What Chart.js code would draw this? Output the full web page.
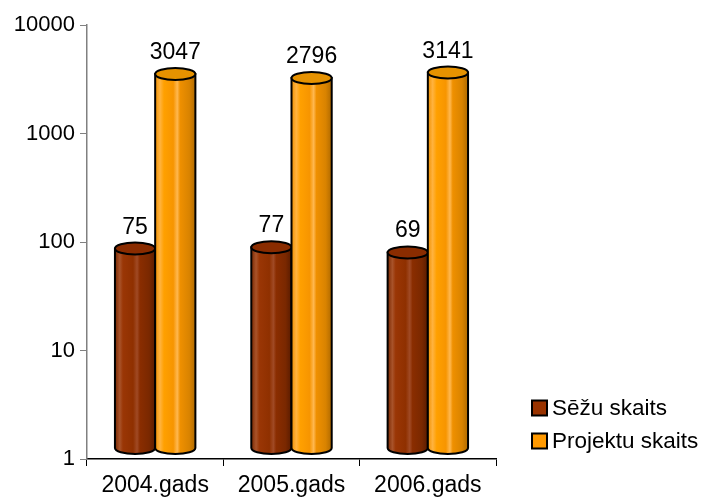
<!DOCTYPE html>
<html>
<head>
<meta charset="utf-8">
<script src="https://cdn.jsdelivr.net/npm/chart.js@4.4.1/dist/chart.umd.min.js"></script>
<style>
    html, body { margin: 0; padding: 0; background: #ffffff; }
    #chart { display: block; }
</style>
</head>
<body>
<canvas id="chart" width="713" height="499"></canvas>
<script>
// chart data
const categories = ['2004.gads', '2005.gads', '2006.gads'];
const seatCounts = [75, 77, 69];
const projectCounts = [3047, 2796, 3141];
const seriesNames = ['Sēžu skaits', 'Projektu skaits'];
const yTickValues = [1, 10, 100, 1000, 10000];

const FONT = '"Liberation Sans", Arial, sans-serif';

// colour sets per series: legend fill, body gradient stops, top fill
const palettes = [
    {
        fill: '#993300',
        body: [[0, '#7a2800'], [0.12, '#a8532a'], [0.2, '#9a3605'], [0.45, '#8f3000'], [0.55, '#a04a25'],
               [0.62, '#8a2d00'], [0.85, '#7a2800'], [1, '#5a1c00']],
        top: '#8a2c00'
    },
    {
        fill: '#ff9900',
        body: [[0, '#f09000'], [0.12, '#ffb340'], [0.22, '#ffa000'], [0.45, '#f79500'], [0.55, '#ffb850'],
               [0.62, '#ef9000'], [0.85, '#d98300'], [1, '#b06a00']],
        top: '#e69200'
    }
];

// draws every bar as a cylinder, using the bar elements the library laid out
const cylinderPlugin = {
    id: 'cylinders',
    afterDatasetsDraw(chart) {
        const ctx = chart.ctx;
        const ry = 6;
        chart.data.datasets.forEach(function(ds, i) {
            const meta = chart.getDatasetMeta(i);
            const pal = palettes[i];
            meta.data.forEach(function(bar, j) {
                const w = bar.width;
                const rx = w / 2;
                const left = bar.x - rx;
                const topY = bar.y - 7;
                const botY = bar.base - 11;

                ctx.save();
                const grad = ctx.createLinearGradient(left, 0, left + w, 0);
                pal.body.forEach(function(s) { grad.addColorStop(s[0], s[1]); });

                // body
                ctx.beginPath();
                ctx.moveTo(left, topY);
                ctx.lineTo(left, botY);
                ctx.ellipse(bar.x, botY, rx, ry, 0, Math.PI, 0, true);
                ctx.lineTo(left + w, topY);
                ctx.closePath();
                ctx.fillStyle = grad;
                ctx.fill();
                ctx.lineWidth = 2;
                ctx.strokeStyle = '#000000';
                ctx.stroke();

                // top ellipse
                ctx.beginPath();
                ctx.ellipse(bar.x, topY, rx, ry, 0, 0, Math.PI * 2);
                ctx.fillStyle = pal.top;
                ctx.fill();
                ctx.stroke();

                // value label
                ctx.fillStyle = '#000000';
                ctx.font = '23px ' + FONT;
                ctx.textAlign = 'center';
                ctx.textBaseline = 'alphabetic';
                ctx.fillText(String(ds.data[j]), bar.x, topY - ry - 9);
                ctx.restore();
            });
        });
    },
    afterDraw(chart) {
        // legend at lower right
        const ctx = chart.ctx;
        const x0 = 532;
        const rows = [408, 441];
        ctx.save();
        chart.data.datasets.forEach(function(ds, i) {
            const cy = rows[i];
            ctx.fillStyle = palettes[i].fill;
            ctx.fillRect(x0, cy - 7.5, 15, 15);
            ctx.lineWidth = 2;
            ctx.strokeStyle = '#000000';
            ctx.strokeRect(x0, cy - 7.5, 15, 15);
            ctx.fillStyle = '#000000';
            ctx.font = '22.5px ' + FONT;
            ctx.textAlign = 'left';
            ctx.textBaseline = 'middle';
            ctx.fillText(ds.label, x0 + 20, cy + 1);
        });
        ctx.restore();
    }
};

new Chart(document.getElementById('chart'), {
    type: 'bar',
    data: {
        labels: categories,
        datasets: [
            {
                label: seriesNames[0],
                data: seatCounts,
                backgroundColor: 'rgba(0,0,0,0)',
                borderWidth: 0
            },
            {
                label: seriesNames[1],
                data: projectCounts,
                backgroundColor: 'rgba(0,0,0,0)',
                borderWidth: 0
            }
        ]
    },
    options: {
        responsive: false,
        animation: false,
        layout: {
            padding: { top: 25, right: 217, bottom: 0, left: 0 }
        },
        datasets: {
            bar: { categoryPercentage: 0.59, barPercentage: 1 }
        },
        scales: {
            x: {
                grid: {
                    offset: true,
                    drawOnChartArea: false,
                    tickLength: 7,
                    color: '#000000',
                    lineWidth: 1
                },
                border: { color: '#000000', width: 1.5 },
                ticks: {
                    color: '#000000',
                    font: { size: 23, family: FONT },
                    padding: 6,
                    maxRotation: 0
                },
                afterFit: function(scale) { scale.height = 40; }
            },
            y: {
                type: 'logarithmic',
                min: 1,
                max: 10000,
                afterBuildTicks: function(axis) {
                    axis.ticks = yTickValues.map(function(v) { return { value: v }; });
                },
                grid: {
                    drawOnChartArea: false,
                    tickLength: 7,
                    color: '#808080',
                    lineWidth: 1
                },
                border: { color: '#808080', width: 1.5 },
                ticks: {
                    color: '#000000',
                    font: { size: 22, family: FONT },
                    padding: 5,
                    callback: function(value) { return String(value); }
                },
                afterFit: function(scale) { scale.width = 87; }
            }
        },
        plugins: {
            legend: { display: false },
            tooltip: { enabled: false }
        }
    },
    plugins: [cylinderPlugin]
});
</script>
</body>
</html>
